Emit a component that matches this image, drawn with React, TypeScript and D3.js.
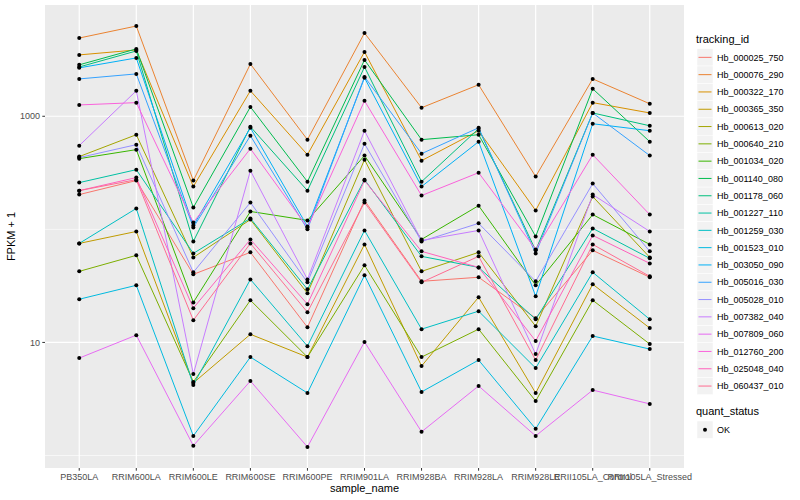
import React from "react";
import * as d3 from "d3";

const samples = [
  "PB350LA", "RRIM600LA", "RRIM600LE", "RRIM600SE", "RRIM600PE", "RRIM901LA",
  "RRIM928BA", "RRIM928LA", "RRIM928LE", "RRII105LA_Control", "RRII105LA_Stressed",
];

const trackingIds = [
  "Hb_000025_750", "Hb_000076_290", "Hb_000322_170", "Hb_000365_350", "Hb_000613_020",
  "Hb_000640_210", "Hb_001034_020", "Hb_001140_080", "Hb_001178_060", "Hb_001227_110",
  "Hb_001259_030", "Hb_001523_010", "Hb_003050_090", "Hb_005016_030", "Hb_005028_010",
  "Hb_007382_040", "Hb_007809_060", "Hb_012760_200", "Hb_025048_040", "Hb_060437_010",
];

const seriesColors = [
  "#F8766D", "#EA8331", "#D89000", "#C09B00", "#A3A500", "#7CAE00", "#39B600",
  "#00BB4E", "#00BF7D", "#00C1A3", "#00BFC4", "#00BAE0", "#00B0F6", "#35A2FF",
  "#9590FF", "#C77CFF", "#E76BF3", "#FA62DB", "#FF62BC", "#FF6C91",
];

// FPKM + 1 per tracking_id (rows) and sample (columns)
const fpkm: number[][] = [
  [203, 270, 40.0, 62.6, 13.6, 180, 34.7, 37.7, 16.4, 65.2, 37.7],
  [4920, 6280, 270, 2900, 621, 5450, 1190, 1900, 293, 2140, 1290],
  [3490, 3860, 239, 1680, 457, 3710, 405, 745, 147, 1320, 1070],
  [75.1, 95.8, 4.38, 11.8, 7.42, 73.6, 6.18, 25.1, 3.57, 32.7, 13.4],
  [440, 687, 56.5, 122, 27.2, 413, 42.5, 62.6, 13.9, 195, 56.5],
  [42.5, 58.9, 4.47, 23.6, 7.42, 48.1, 7.42, 13.1, 3.03, 23.6, 9.67],
  [422, 507, 22.6, 144, 120, 449, 81.5, 162, 32.0, 135, 73.6],
  [2850, 3940, 156, 1210, 264, 3150, 621, 687, 86.5, 1750, 596],
  [2730, 3780, 78.2, 808, 220, 2730, 264, 776, 65.2, 1070, 824],
  [259, 337, 61.3, 125, 29.5, 275, 57.7, 46.1, 16.0, 102, 55.4],
  [75.1, 153, 4.20, 36.1, 9.27, 97.8, 13.1, 18.9, 5.93, 41.7, 16.0],
  [24.1, 32.0, 1.49, 7.42, 3.57, 39.2, 3.65, 6.98, 1.72, 11.4, 8.73],
  [2680, 3280, 108, 791, 106, 2190, 239, 596, 25.6, 859, 745],
  [2140, 2370, 104, 673, 100, 2230, 467, 791, 61.3, 1070, 449],
  [431, 561, 41.7, 173, 34.0, 572, 78.2, 113, 34.7, 254, 63.9],
  [550, 1680, 5.25, 330, 36.1, 745, 79.8, 97.8, 7.88, 203, 95.8],
  [7.27, 11.6, 1.22, 4.56, 1.19, 10.1, 1.62, 4.12, 1.49, 3.79, 2.86],
  [1260, 1320, 115, 517, 104, 1370, 199, 317, 66.5, 457, 135],
  [220, 287, 20.1, 81.5, 21.8, 270, 63.9, 46.1, 10.3, 88.4, 50.0],
  [220, 275, 15.7, 75.1, 18.5, 173, 34.0, 57.7, 6.98, 73.6, 38.4],
];

const yMajorTicks = [10, 1000];
const yMinorTicks = [1, 100, 10000];
const quantStatus = ["OK"];

const FONT = "'Liberation Sans', Arial, Helvetica, sans-serif";

export default function App() {
  const W = 800, H = 500;
  const panel = { left: 45, right: 684, top: 5, bottom: 468 };

  const x = d3.scalePoint<string>().domain(samples).range([panel.left, panel.right]).padding(0.6);

  const all = fpkm.flat();
  const lmin = Math.log10(d3.min(all) as number);
  const lmax = Math.log10(d3.max(all) as number);
  const pad = (lmax - lmin) * 0.05;
  const y = d3.scaleLog().domain([Math.pow(10, lmin - pad), Math.pow(10, lmax + pad)]).range([panel.bottom, panel.top]);
  const [d0, d1] = y.domain();
  const inDomain = (v: number) => v >= d0 && v <= d1;

  const line = d3.line<number>()
    .x((_, i) => x(samples[i]) as number)
    .y((v) => y(v));

  const legendX = 697;
  const keyH = 17.3;
  const firstKeyTop = 48.7;

  return (
    <svg width={W} height={H} style={{ position: "absolute", left: 0, top: 0, background: "#fff" }} fontFamily={FONT}>
      <rect x={0} y={0} width={W} height={H} fill="#ffffff" />
      <rect x={panel.left} y={panel.top} width={panel.right - panel.left} height={panel.bottom - panel.top} fill="#EBEBEB" />
      {yMinorTicks.filter(inDomain).map((t) => (
        <line key={"mn" + t} x1={panel.left} x2={panel.right} y1={y(t)} y2={y(t)} stroke="#fff" strokeWidth={0.6} />
      ))}
      {yMajorTicks.map((t) => (
        <line key={"mj" + t} x1={panel.left} x2={panel.right} y1={y(t)} y2={y(t)} stroke="#fff" strokeWidth={1.2} />
      ))}
      {samples.map((s) => (
        <line key={"vx" + s} x1={x(s)} x2={x(s)} y1={panel.top} y2={panel.bottom} stroke="#fff" strokeWidth={1.2} />
      ))}
      {fpkm.map((vals, i) => (
        <path key={"ln" + i} d={line(vals) as string} fill="none" stroke={seriesColors[i]} strokeWidth={1} />
      ))}
      {fpkm.map((vals, i) =>
        vals.map((v, j) => (
          <circle key={"pt" + i + "_" + j} cx={x(samples[j])} cy={y(v)} r={2} fill="#000" />
        ))
      )}
      {/* y axis */}
      {yMajorTicks.map((t) => (
        <g key={"yt" + t}>
          <line x1={panel.left - 2.7} x2={panel.left} y1={y(t)} y2={y(t)} stroke="#333" strokeWidth={1} />
          <text x={panel.left - 5} y={y(t)} dy="0.35em" textAnchor="end" fontSize={9} fill="#4D4D4D">{t}</text>
        </g>
      ))}
      {/* x axis */}
      {samples.map((s) => (
        <g key={"xt" + s}>
          <line x1={x(s)} x2={x(s)} y1={panel.bottom} y2={panel.bottom + 2.7} stroke="#333" strokeWidth={1} />
          <text x={x(s)} y={480} textAnchor="middle" fontSize={9} fill="#4D4D4D">{s}</text>
        </g>
      ))}
      <text x={(panel.left + panel.right) / 2} y={492} textAnchor="middle" fontSize={11} fill="#000">sample_name</text>
      <text transform={`translate(15,${(panel.top + panel.bottom) / 2}) rotate(-90)`} textAnchor="middle" fontSize={11} fill="#000">FPKM + 1</text>

      {/* legend: tracking_id */}
      <text x={legendX - 1} y={43} fontSize={11} fill="#000">tracking_id</text>
      {trackingIds.map((id, i) => {
        const top = firstKeyTop + i * keyH;
        return (
          <g key={"lg" + id}>
            <rect x={legendX} y={top} width={16} height={keyH} fill="#F2F2F2" stroke="#fff" strokeWidth={0.5} />
            <line x1={legendX + 1.5} x2={legendX + 14.5} y1={top + keyH / 2} y2={top + keyH / 2} stroke={seriesColors[i]} strokeWidth={1} />
            <text x={legendX + 20} y={top + keyH / 2} dy="0.35em" fontSize={9} fill="#000">{id}</text>
          </g>
        );
      })}

      {/* legend: quant_status */}
      <text x={legendX - 1} y={415} fontSize={11} fill="#000">quant_status</text>
      {quantStatus.map((q, i) => {
        const top = 421 + i * keyH;
        return (
          <g key={"qs" + q}>
            <rect x={legendX} y={top} width={16} height={keyH} fill="#F2F2F2" stroke="#fff" strokeWidth={0.5} />
            <circle cx={legendX + 8} cy={top + keyH / 2} r={2} fill="#000" />
            <text x={legendX + 20} y={top + keyH / 2} dy="0.35em" fontSize={9} fill="#000">{q}</text>
          </g>
        );
      })}
    </svg>
  );
}
